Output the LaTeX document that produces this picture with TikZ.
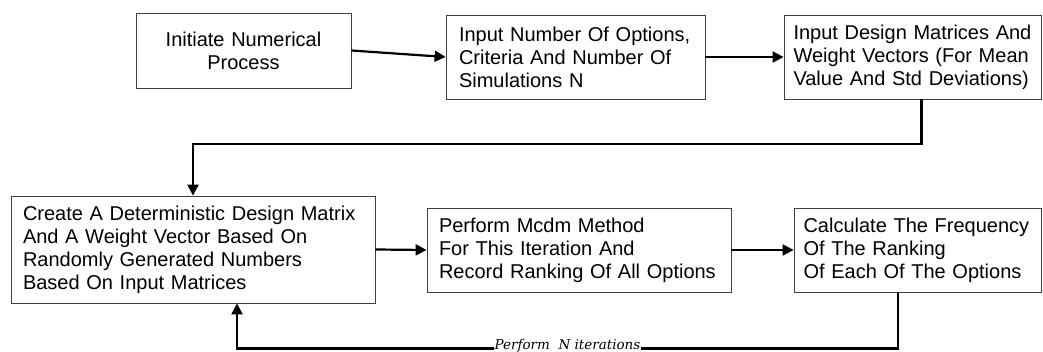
\documentclass[tikz,border=0pt]{standalone}
\usepackage{fontspec}
\setmainfont{Liberation Sans}
\newfontfamily\loopfont{DejaVu Serif}
\usetikzlibrary{arrows.meta}

\tikzset{
  stepbox/.style={draw=black!75, line width=0.8pt, inner xsep=0pt, inner ysep=0pt, align=left, font=\fontsize{20}{23}\selectfont},
  flow/.style={line width=2.2pt, -{Triangle[length=11pt,width=11pt]}},
}

\begin{document}
\begin{tikzpicture}[x=1pt,y=1pt,yscale=-1,xscale=1]
\useasboundingbox (0,0) rectangle (1043,352);

%Shape: Rectangle [init]
\node [stepbox, align=center, minimum width=215, minimum height=75, text width=200] (init) at (243.5,50.5) {Initiate Numerical\\Process};
%Shape: Rectangle [inputN]
\node [stepbox, minimum width=259, minimum height=84, text width=233] (inputN) at (575.5,57) {Input Number Of Options,\\Criteria And Number Of\\Simulations N};
%Shape: Rectangle [inputD]
\node [stepbox, minimum width=257, minimum height=84, text width=238] (inputD) at (912.5,57) {Input Design Matrices And\\Weight Vectors (For Mean\\Value And Std Deviations)};
%Shape: Rectangle [create]
\node [stepbox, minimum width=364, minimum height=107, text width=340] (create) at (193,249.5) {Create A Deterministic Design Matrix\\And A Weight Vector Based On\\Randomly Generated Numbers\\Based On Input Matrices};
%Shape: Rectangle [mcdm]
\node [stepbox, minimum width=304, minimum height=84, text width=280] (mcdm) at (579,250) {Perform Mcdm Method\\For This Iteration And\\Record Ranking Of All Options};
%Shape: Rectangle [freq]
\node [stepbox, minimum width=247, minimum height=84, text width=228] (freq) at (917.5,250) {Calculate The Frequency\\Of The Ranking\\Of Each Of The Options};

%Straight Lines [init -> inputN -> inputD]
\draw [flow] (init.east) -- (inputN.west);
\draw [flow] (inputN.east) -- (inputD.west);
%Shape: Elbow [inputD -> create]
\draw [flow] ([xshift=9]inputD.south) -- ++(0,45) -| (create.north);
%Straight Lines [create -> mcdm -> freq]
\draw [flow] (create.east) -- (mcdm.west);
\draw [flow] (mcdm.east) -- (freq.west);
%Shape: Elbow [freq -> create]
\draw [flow] ([xshift=-19.5]freq.south) -- ++(0,56) -| node [pos=0.25, yshift=2.5, fill=white, inner sep=1pt, font=\loopfont\itshape\fontsize{13.5}{15}\selectfont] {Perform~ N iterations} ([xshift=44]create.south);
\end{tikzpicture}
\end{document}
